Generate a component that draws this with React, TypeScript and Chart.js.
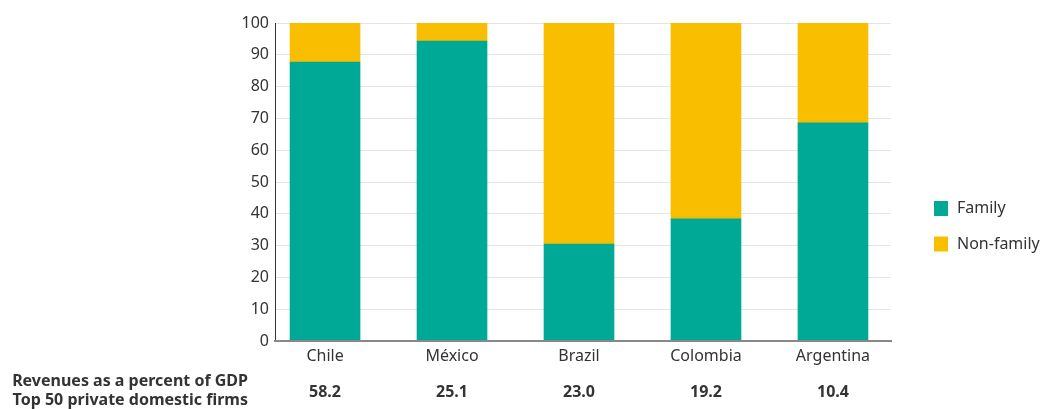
import React, { useEffect, useRef } from "react";
import { Chart, registerables } from "chart.js";

Chart.register(...registerables);

const categories = ["Chile", "México", "Brazil", "Colombia", "Argentina"];
const familyShare = [87.7, 94.3, 30.5, 38.4, 68.6];
const nonFamilyShare = [12.3, 5.7, 69.5, 61.6, 31.4];
const revenueValues = ["58.2", "25.1", "23.0", "19.2", "10.4"];
const rowLabels = ["Revenues as a percent of GDP", "Top 50 private domestic firms"];
const seriesNames = ["Family", "Non-family"];
const seriesColors = ["#00a896", "#f9be00"];

const FONT = "'Noto Sans', sans-serif";
const TEXT = "#333333";

export default function App() {
  const ref = useRef<HTMLCanvasElement | null>(null);

  useEffect(() => {
    const canvas = ref.current;
    if (!canvas) return;

    const extras = {
      id: "extras",
      afterDraw(chart: any) {
        const ctx = chart.ctx;
        const xs = chart.scales.x;
        ctx.save();
        // legend
        ctx.font = `16px ${FONT}`;
        ctx.textBaseline = "middle";
        ctx.textAlign = "left";
        const legendY = [208.5, 244];
        seriesNames.forEach((name, i) => {
          ctx.fillStyle = seriesColors[i];
          ctx.fillRect(934, legendY[i] - 7.5, 14, 15);
          ctx.fillStyle = TEXT;
          ctx.fillText(name, 957, legendY[i]);
        });
        // bottom row
        ctx.font = `bold 16px ${FONT}`;
        ctx.textAlign = "right";
        ctx.fillText(rowLabels[0], 248, 381);
        ctx.fillText(rowLabels[1], 248, 400);
        ctx.textAlign = "center";
        revenueValues.forEach((v, i) => {
          ctx.fillText(v, xs.getPixelForValue(i), 392);
        });
        ctx.restore();
      },
    };

    const chart = new Chart(canvas, {
      type: "bar",
      data: {
        datasets: [
          {
            label: seriesNames[0],
            data: familyShare.map((v, i) => ({ x: i, y: v })),
            backgroundColor: seriesColors[0],
            barThickness: 70,
          },
          {
            label: seriesNames[1],
            data: nonFamilyShare.map((v, i) => ({ x: i, y: v })),
            backgroundColor: seriesColors[1],
            barThickness: 70,
          },
        ],
      },
      options: {
        animation: false,
        responsive: false,
        layout: { padding: { left: 0, right: 152, top: 23, bottom: 0 } },
        plugins: { legend: { display: false }, tooltip: { enabled: false } },
        scales: {
          x: {
            type: "linear",
            stacked: true,
            offset: false,
            min: -0.394,
            max: 4.457,
            grid: { display: false, drawTicks: false, offset: false },
            border: { display: true, color: "#888888", width: 2, z: 1 },
            ticks: {
              stepSize: 1,
              includeBounds: false,
              autoSkip: false,
              maxRotation: 0,
              padding: 6,
              color: TEXT,
              font: { family: FONT, size: 16 },
              callback: (v: any) => (Number.isInteger(v) ? categories[v] ?? "" : ""),
            },
            afterFit: (s: any) => {
              s.height = 68;
            },
          },
          y: {
            stacked: true,
            min: 0,
            max: 100,
            grid: {
              drawTicks: false,
              lineWidth: 1,
              color: (c: any) => (c.tick && c.tick.value === 0 ? "rgba(0,0,0,0)" : "#e4e4e4"),
            },
            border: { display: true, color: "#333333", width: 1 },
            ticks: {
              stepSize: 10,
              padding: 6,
              color: TEXT,
              font: { family: FONT, size: 16 },
            },
            afterFit: (s: any) => {
              s.width = 275;
            },
          },
        },
      },
      plugins: [extras],
    } as any);

    return () => chart.destroy();
  }, []);

  return (
    <div style={{ position: "fixed", left: 0, top: 0, width: 1043, height: 409, background: "#fff" }}>
      <canvas ref={ref} width={1043} height={409} style={{ width: 1043, height: 409, display: "block" }} />
    </div>
  );
}
